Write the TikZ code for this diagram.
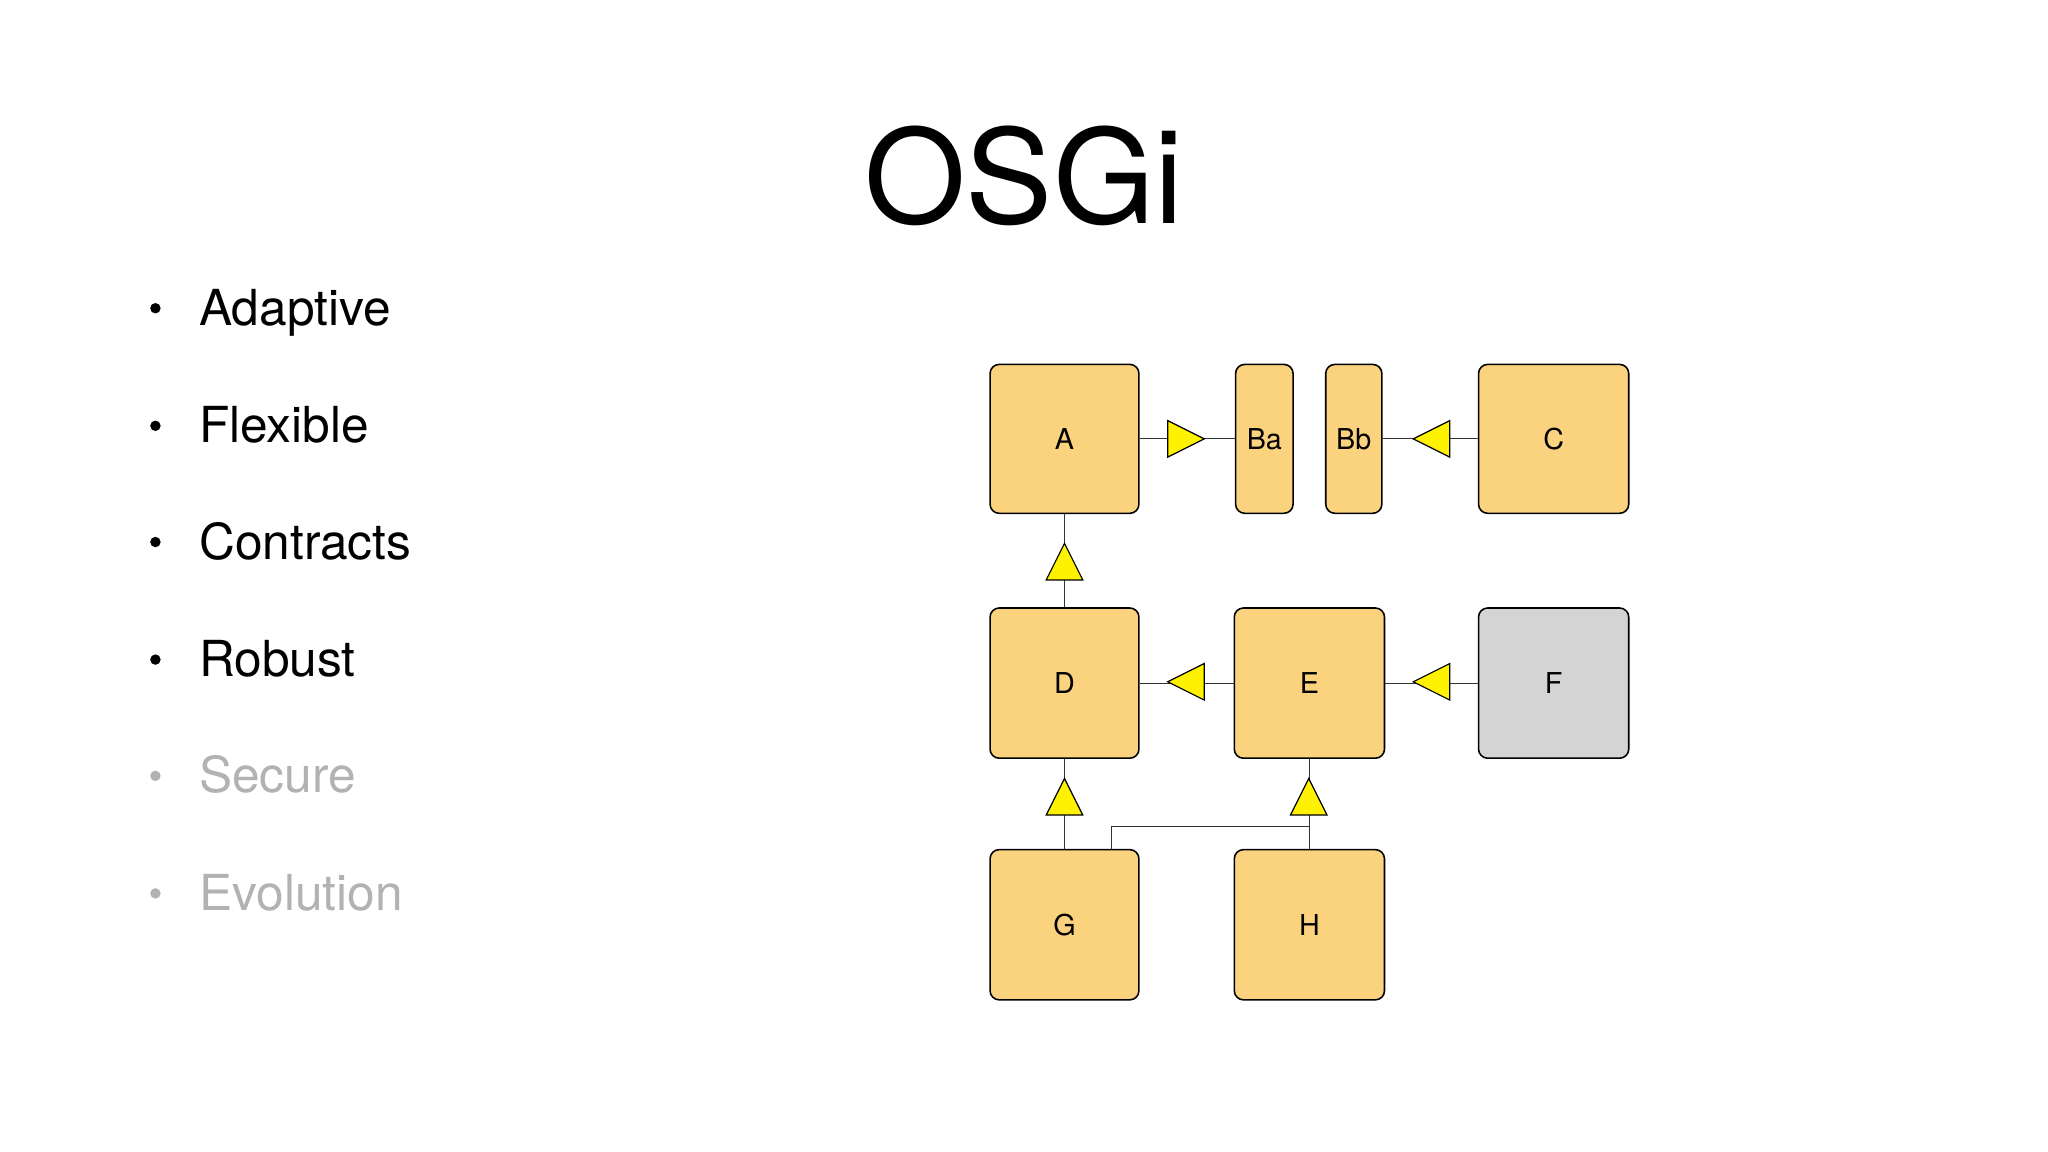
\documentclass[tikz,border=0pt]{standalone}
\usepackage{fontspec}
\setmainfont{TeX Gyre Heros}
\begin{document}
\begin{tikzpicture}[x=1pt,y=-1pt,
  box/.style={draw=black,line width=1.2pt,rounded corners=7pt,fill=orange!45!yellow!60,inner sep=0pt,font=\fontsize{22}{26}\selectfont},
  tri/.style={draw=black,line width=0.9pt,fill=yellow},
  ln/.style={draw=black!80,line width=0.8pt},
  bul/.style={anchor=base west,font=\fontsize{38}{44}\selectfont},
  dot/.style={circle,fill=black,inner sep=0pt,minimum size=8pt}]
\useasboundingbox (0,0) rectangle (1568,882);
\colorlet{boxc}{orange!45!yellow!60}
\definecolor{boxfill}{HTML}{FBD27E}
\tikzset{box/.append style={fill=boxfill}}
\node[font=\fontsize{100}{110}\selectfont] (title) at (784,135) {OSGi};
\foreach \t/\y/\c [count=\i] in {Adaptive/236/black,Flexible/326/black,Contracts/415/black,Robust/505/black,Secure/594/black!30,Evolution/684/black!30}{
  \node[dot,fill=\c] (d\i) at (119,\y) {};
  \node[bul,text=\c] (b\i) at (149,\y+13) {\t};
}
\node[box,minimum width=114pt,minimum height=114pt] (A) at (815,336) {A};
\node[box,minimum width=44pt,minimum height=114pt] (Ba) at (968,336) {Ba};
\node[box,minimum width=43pt,minimum height=114pt] (Bb) at (1036.5,336) {Bb};
\node[box,minimum width=115pt,minimum height=114pt] (C) at (1189.5,336) {C};
\node[box,minimum width=114pt,minimum height=115pt] (D) at (815,523) {D};
\node[box,minimum width=115pt,minimum height=115pt] (E) at (1002.5,523) {E};
\node[box,fill=black!17,minimum width=115pt,minimum height=115pt] (F) at (1189.5,523) {F};
\node[box,minimum width=114pt,minimum height=115pt] (G) at (815,708) {G};
\node[box,minimum width=115pt,minimum height=115pt] (H) at (1002.5,708) {H};
% connectors
\draw[ln] (A) -- (Ba);
\draw[ln] (C) -- (Bb);
\draw[ln] (D) -- (A);
\draw[ln] (E) -- (D);
\draw[ln] (F) -- (E);
\draw[ln] (G) -- (D);
\draw[ln] (H) -- (E);
\coordinate (gk) at (851,633);
\draw[ln] (G.north -| gk) -- (gk) -- (gk -| H.north);
% triangles
\draw[tri] (894,322) -- (922,336) -- (894,350) -- cycle;
\draw[tri] (1110,322) -- (1082,336) -- (1110,350) -- cycle;
\draw[tri] (801,444) -- (815,416) -- (829,444) -- cycle;
\draw[tri] (922,508) -- (894,522) -- (922,536) -- cycle;
\draw[tri] (1110,508) -- (1082,522) -- (1110,536) -- cycle;
\draw[tri] (801,624) -- (815,596) -- (829,624) -- cycle;
\draw[tri] (988,624) -- (1002,596) -- (1016,624) -- cycle;
\end{tikzpicture}
\end{document}
